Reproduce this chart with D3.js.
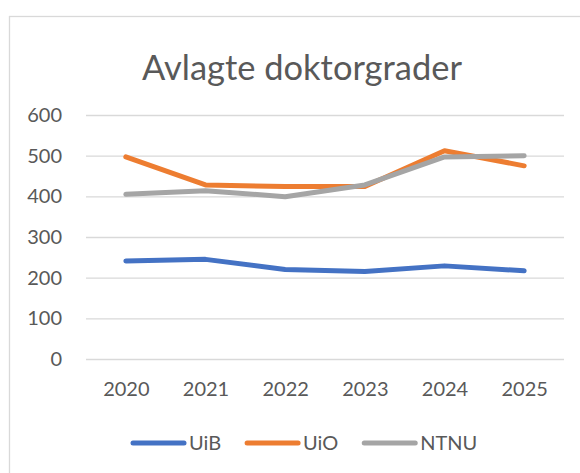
<!DOCTYPE html>
<html>
<head>
<meta charset="utf-8">
<script src="https://cdn.jsdelivr.net/npm/d3@7"></script>
<style>
  html, body { margin: 0; padding: 0; background: #fff; }
  svg { display: block; }
  text { font-family: Lato, "Open Sans", sans-serif; fill: #595959; }
</style>
</head>
<body>
<svg id="chart" width="580" height="473"></svg>
<script>
const title = "Avlagte doktorgrader";
const years = ["2020", "2021", "2022", "2023", "2024", "2025"];
const seriesNames = ["UiB", "UiO", "NTNU"];
const uib  = [241, 245, 220, 215, 229, 217];
const uio  = [497, 428, 424, 424, 512, 475];
const ntnu = [405, 414, 399, 428, 497, 500];
const yTicks = [0, 100, 200, 300, 400, 500, 600];
const colors = ["#4472C4", "#ED7D31", "#A5A5A5"];

const series = [
  { name: seriesNames[0], values: uib,  color: colors[0] },
  { name: seriesNames[1], values: uio,  color: colors[1] },
  { name: seriesNames[2], values: ntnu, color: colors[2] }
];

const svg = d3.select("#chart");

// chart area border
svg.append("rect")
  .attr("x", 9.5).attr("y", 16.5)
  .attr("width", 620).attr("height", 520)
  .attr("fill", "#fff")
  .attr("stroke", "#D9D9D9")
  .attr("stroke-width", 1.3);

const plotLeft = 86, plotRight = 564, plotTop = 115, plotBottom = 359;

const x = d3.scalePoint().domain(years).range([plotLeft, plotRight]).padding(0.5);
const y = d3.scaleLinear().domain([0, 600]).range([plotBottom, plotTop]);

// title
const t = svg.append("text")
  .attr("x", 302).attr("y", 80)
  .attr("text-anchor", "middle")
  .style("font-size", "36px")
  .style("font-weight", 400)
  .text(title);
const tw = t.node().getComputedTextLength();
t.style("font-size", (36 * 320 / tw) + "px");

// y axis with gridlines
const yAxis = svg.append("g")
  .attr("transform", `translate(${plotLeft},0)`)
  .call(d3.axisLeft(y).tickValues(yTicks).tickSize(-(plotRight - plotLeft)).tickPadding(24));
yAxis.select(".domain").remove();
yAxis.selectAll(".tick line").attr("stroke", "#D9D9D9").attr("stroke-width", 1.3);
yAxis.selectAll(".tick text")
  .style("font-size", "20px")
  .style("font-family", "Lato, 'Open Sans', sans-serif")
  .attr("fill", "#595959");

// x axis labels
const xAxis = svg.append("g")
  .attr("transform", `translate(0,${plotBottom})`)
  .call(d3.axisBottom(x).tickSize(0).tickPadding(23));
xAxis.select(".domain").remove();
xAxis.selectAll(".tick text")
  .style("font-size", "20px")
  .style("font-family", "Lato, 'Open Sans', sans-serif")
  .attr("fill", "#595959");

// lines
const line = d3.line()
  .x((d, i) => x(years[i]))
  .y(d => y(d));

svg.append("g").selectAll("path")
  .data(series)
  .join("path")
  .attr("d", d => line(d.values))
  .attr("fill", "none")
  .attr("stroke", d => d.color)
  .attr("stroke-width", 5)
  .attr("stroke-linecap", "round")
  .attr("stroke-linejoin", "round");

// legend
const legend = svg.append("g");
const legendY = 443;
let cx = 131;
series.forEach(s => {
  legend.append("line")
    .attr("x1", cx + 2).attr("x2", cx + 53)
    .attr("y1", legendY).attr("y2", legendY)
    .attr("stroke", s.color)
    .attr("stroke-width", 5)
    .attr("stroke-linecap", "round");
  const lt = legend.append("text")
    .attr("x", cx + 58).attr("y", legendY + 7)
    .style("font-size", "20px")
    .text(s.name);
  cx = cx + 58 + lt.node().getComputedTextLength() + 24;
});
</script>
</body>
</html>
